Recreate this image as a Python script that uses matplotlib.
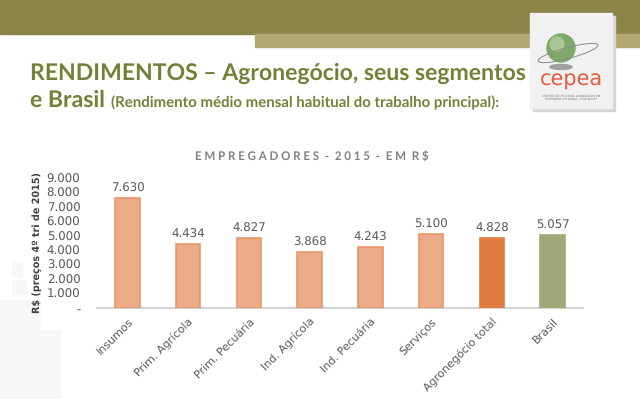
import numpy as np
import matplotlib.pyplot as plt
from matplotlib.patches import Rectangle, Circle, Ellipse

plt.rcParams['text.hinting'] = 'no_hinting'

categories = ['Insumos', 'Prim. Agrícola', 'Prim. Pecuária', 'Ind. Agrícola',
              'Ind. Pecuária', 'Serviços', 'Agronegócio total', 'Brasil']
values = [7630, 4434, 4827, 3868, 4243, 5100, 4828, 5057]
yticks = [0, 1000, 2000, 3000, 4000, 5000, 6000, 7000, 8000, 9000]

light = '#ebab87'
light_edge = '#e8956a'
bar_colors = [light] * 6 + ['#e07c42', '#a0a87a']
edge_colors = [light_edge] * 6 + ['#e07c42', '#a0a87a']

def fmt(v):
    return '-' if v == 0 else f'{v:,.0f}'.replace(',', '.')

fig = plt.figure(figsize=(6.4, 3.99), dpi=100)
W, H = 640, 399

# slide background: header bands, faint left blocks, logo
bg = fig.add_axes([0, 0, 1, 1])
bg.set_xlim(0, W)
bg.set_ylim(H, 0)
bg.axis('off')
bg.add_patch(Rectangle((0, 0), W, 34, color='#8b8348', zorder=1))
bg.add_patch(Rectangle((255, 34), W - 255, 13, color='#b3a774', zorder=1))
for (x0, y0, w0, h0) in [(12, 262, 10, 14), (12, 280, 14, 14), (0, 300, 40, 99), (40, 330, 20, 69)]:
    bg.add_patch(Rectangle((x0, y0), w0, h0, color='#f6f8f7', zorder=1))

# logo
bg.add_patch(Rectangle((533, 16), 82, 95, color='#d6d6d6', zorder=2))
bg.add_patch(Rectangle((530, 13), 82, 95, color='#f1f1f1', zorder=3))
bg.add_patch(Ellipse((561, 67), 22, 5, color='#a0a0a0', zorder=4))
bg.add_patch(Circle((561, 48), 14, color='#7fa86a', zorder=4))
bg.add_patch(Circle((557, 44), 7, color='#a9c796', zorder=5))
bg.add_patch(Ellipse((568, 53), 62, 11, angle=-15, fill=False, ec='#8a8a8a', lw=0.7, zorder=6))
bg.text(571, 80, 'cepea', fontsize=15, color='#e55b3c', ha='center', va='center',
        family='DejaVu Sans', zorder=6)
bg.text(571, 97, 'CENTRO DE ESTUDOS AVANÇADOS EM\nECONOMIA APLICADA - ESALQ/USP',
        fontsize=2.2, color='#777777', ha='center', va='center', linespacing=1.2, zorder=6)

# slide title
title_color = '#738037'
bg.text(30, 80, 'RENDIMENTOS – Agronegócio, seus segmentos', fontsize=16.55,
        fontweight='bold', color=title_color, family='Lato', va='baseline', zorder=6)
bg.text(30, 107, 'e Brasil', fontsize=16.55, fontweight='bold', color=title_color,
        family='Lato', va='baseline', zorder=6)
bg.text(111, 107, '(Rendimento médio mensal habitual do trabalho principal):', fontsize=10.8,
        fontweight='bold', color=title_color, family='Lato', va='baseline', zorder=6)

# chart title
bg.text(312, 157, 'E M P R E G A D O R E S\u2002-\u20022 0 1 5\u2002-\u2002E M\u2002R $',
        fontsize=8.3, fontweight='bold', color='#808080', family='Lato', ha='center',
        va='center', zorder=6)

ax = fig.add_axes([97 / W, 1 - 308 / H, 486 / W, 130 / H])
ax.patch.set_alpha(0)
x = np.arange(len(categories))
bars = ax.bar(x, values, width=0.4, color=bar_colors, edgecolor=edge_colors, linewidth=1.2, zorder=3)
for xi, v in zip(x, values):
    ax.text(xi, v + 250, fmt(v), ha='center', va='bottom', fontsize=8.5, color='#595959')

ax.set_xlim(-0.5, len(categories) - 0.5)
ax.set_ylim(0, 9000)
ax.set_yticks(yticks)
ax.set_yticklabels([fmt(t) for t in yticks], fontsize=8.5, color='#595959')
ax.set_xticks(x)
ax.set_xticklabels(categories, rotation=45, ha='right', rotation_mode='anchor',
                   fontsize=8, color='#595959')
ax.tick_params(axis='both', length=0)
ax.tick_params(axis='y', pad=12)
ax.tick_params(axis='x', pad=6)
for s in ['top', 'right', 'left']:
    ax.spines[s].set_visible(False)
ax.spines['bottom'].set_color('#d4d4d4')
ax.spines['bottom'].set_linewidth(1.5)
ax.set_ylabel('R$ (preços 4º tri de 2015)', fontsize=6.9, fontweight='bold', color='#404040',
              labelpad=3)

fig.savefig('out.png', dpi=100)
